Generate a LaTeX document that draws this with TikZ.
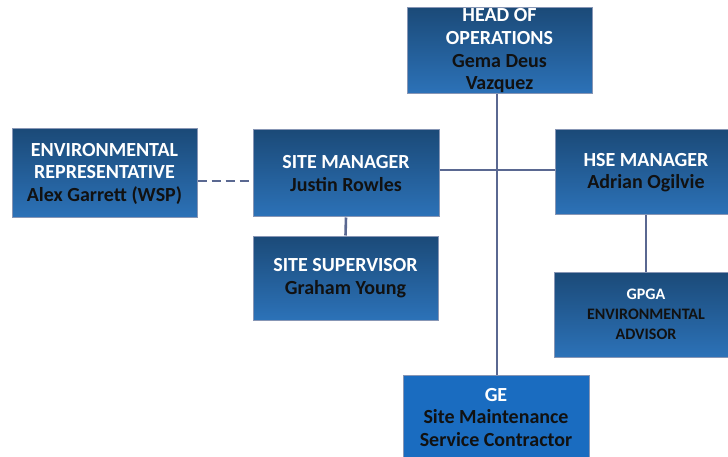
\documentclass[tikz,border=0pt]{standalone}
\usepackage{fontspec}
\setmainfont{Carlito}
\definecolor{boxtop}{HTML}{1B4A78}
\definecolor{boxbot}{HTML}{2C72B8}
\definecolor{boxsolid}{HTML}{1A6CC0}
\definecolor{edgecol}{HTML}{8796B5}
\definecolor{linecol}{HTML}{5A6891}
\definecolor{namecol}{HTML}{111111}
\begin{document}
\begin{tikzpicture}[x=1pt,y=-1pt,
  orgbox/.style={rectangle, draw=edgecol, line width=1pt, top color=boxtop, bottom color=boxbot,
    inner sep=0pt, align=center, text=namecol, font=\fontsize{20}{22.5}\selectfont\bfseries},
  gebox/.style={orgbox, top color=boxsolid, bottom color=boxsolid, fill=boxsolid},
  conn/.style={draw=linecol, line width=2.6pt},
  dconn/.style={conn, dash pattern=on 9pt off 5pt}]
\useasboundingbox (0,0) rectangle (728,457);

\node[orgbox, minimum width=185pt, minimum height=86pt] (head) at (499.5,50.5)
  {\textcolor{white}{HEAD OF}\\[1pt]\textcolor{white}{OPERATIONS}\\Gema Deus\\Vazquez};
\node[orgbox, minimum width=185pt, minimum height=89pt] (env) at (104.5,173.5)
  {\textcolor{white}{ENVIRONMENTAL}\\\textcolor{white}{REPRESENTATIVE}\\Alex Garrett (WSP)};
\node[orgbox, minimum width=186pt, minimum height=87pt] (sm) at (346,173.5)
  {\textcolor{white}{SITE MANAGER}\\Justin Rowles};
\node[orgbox, minimum width=185pt, minimum height=84pt] (ss) at (345.5,278)
  {\textcolor{white}{SITE SUPERVISOR}\\Graham Young};
\node[orgbox, minimum width=182pt, minimum height=85pt] (hse) at (646,172.5)
  {\textcolor{white}{HSE MANAGER}\\Adrian Ogilvie};
\node[orgbox, minimum width=184pt, minimum height=85pt,
  font=\fontsize{16}{20}\selectfont\bfseries] (gpga) at (646,314.5)
  {\textcolor{white}{GPGA}\\ENVIRONMENTAL\\ADVISOR};
\node[gebox, minimum width=186pt, minimum height=100pt] (ge) at (496,425)
  {};
\node[align=center, text=namecol, font=\fontsize{20}{22.5}\selectfont\bfseries, inner sep=0pt,
  anchor=north] (getext) at (496,388)
  {\textcolor{white}{GE}\\Site Maintenance\\Service Contractor};

\coordinate (junc) at (497,170);
\draw[conn] (head.south -| junc) -- (ge.north -| junc);
\draw[conn] (sm.east |- junc) -- (hse.west |- junc);
\draw[conn] (sm.south) -- (ss.north);
\draw[conn] (hse.south -| gpga.north) -- (gpga.north);
\coordinate (dy) at (0,181);
\draw[dconn] (env.east |- dy) -- (sm.west |- dy);
\end{tikzpicture}
\end{document}
